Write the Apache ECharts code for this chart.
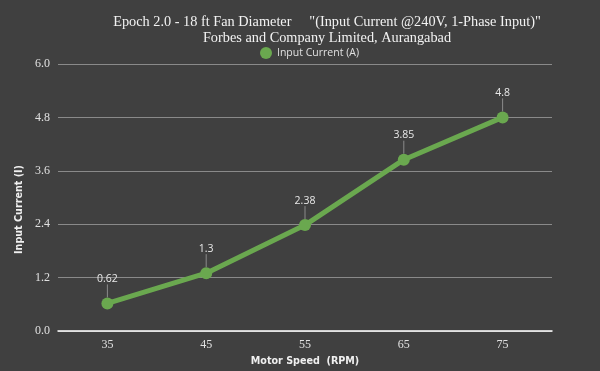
<!DOCTYPE html>
<html>
<head>
<meta charset="utf-8">
<script src="https://cdn.jsdelivr.net/npm/echarts@6/dist/echarts.min.js"></script>
<style>html,body{margin:0;padding:0;background:#404040;}#c{width:600px;height:371px;}</style>
</head>
<body>
<div id="c"></div>
<script>
var categories = ['35', '45', '55', '65', '75'];
var inputCurrent = [0.62, 1.3, 2.38, 3.85, 4.8];
var seriesName = 'Input Current (A)';
var titleLine1 = 'Epoch 2.0 - 18 ft Fan Diameter     "(Input Current @240V, 1-Phase Input)"';
var titleLine2 = 'Forbes and Company Limited, Aurangabad';

var chart = echarts.init(document.getElementById('c'), null, {renderer: 'canvas'});
chart.setOption({
  backgroundColor: '#404040',
  animation: false,
  title: {
    text: titleLine1 + '\n' + titleLine2,
    left: 322, top: 9, textAlign: 'center',
    textStyle: {fontFamily: 'Liberation Serif', fontSize: 14.3, fontWeight: 'normal', color: '#f2f2f2', lineHeight: 16}
  },
  legend: {
    top: 42, left: 255,
    icon: 'circle', itemWidth: 12, itemHeight: 12, itemGap: 8,
    textStyle: {fontFamily: 'Open Sans', fontSize: 10.5, color: '#e0e0e0'},
    data: [seriesName]
  },
  grid: {left: 58, right: 48, top: 64, bottom: 39},
  xAxis: {
    type: 'category', data: categories, boundaryGap: true,
    name: 'Motor Speed  (RPM)', nameLocation: 'middle', nameGap: 25,
    nameTextStyle: {fontFamily: 'DejaVu Sans', fontSize: 9.6, fontWeight: 'bold', color: '#f0f0f0'},
    axisLine: {lineStyle: {color: '#ffffff', width: 1.5}},
    axisTick: {show: false},
    axisLabel: {fontFamily: 'Liberation Serif', fontSize: 12, color: '#e0e0e0', margin: 8}
  },
  yAxis: {
    type: 'value', min: 0, max: 6, interval: 1.2,
    name: 'Input Current (I)', nameLocation: 'middle', nameGap: 32,
    nameTextStyle: {fontFamily: 'DejaVu Sans', fontSize: 9.6, fontWeight: 'bold', color: '#f0f0f0', padding: [0, 24, 0, 0]},
    axisLine: {show: false}, axisTick: {show: false},
    axisLabel: {fontFamily: 'Liberation Serif', fontSize: 12, color: '#e0e0e0', margin: 8,
      formatter: function (v) { return v.toFixed(1); }},
    splitLine: {lineStyle: {color: '#8a8a8a', width: 1}}
  },
  series: [{
    name: seriesName, type: 'line', data: inputCurrent,
    symbol: 'circle', symbolSize: 12,
    itemStyle: {color: '#6aa84f'},
    lineStyle: {color: '#6aa84f', width: 5},
    label: {show: true, position: 'top', distance: 3,
      fontFamily: 'Open Sans', fontSize: 10.5, color: '#e8e8e8'},
    labelLayout: {dy: -10},
    labelLine: {show: true, lineStyle: {color: '#8a8a8a', width: 1}}
  }]
});
</script>
</body>
</html>
